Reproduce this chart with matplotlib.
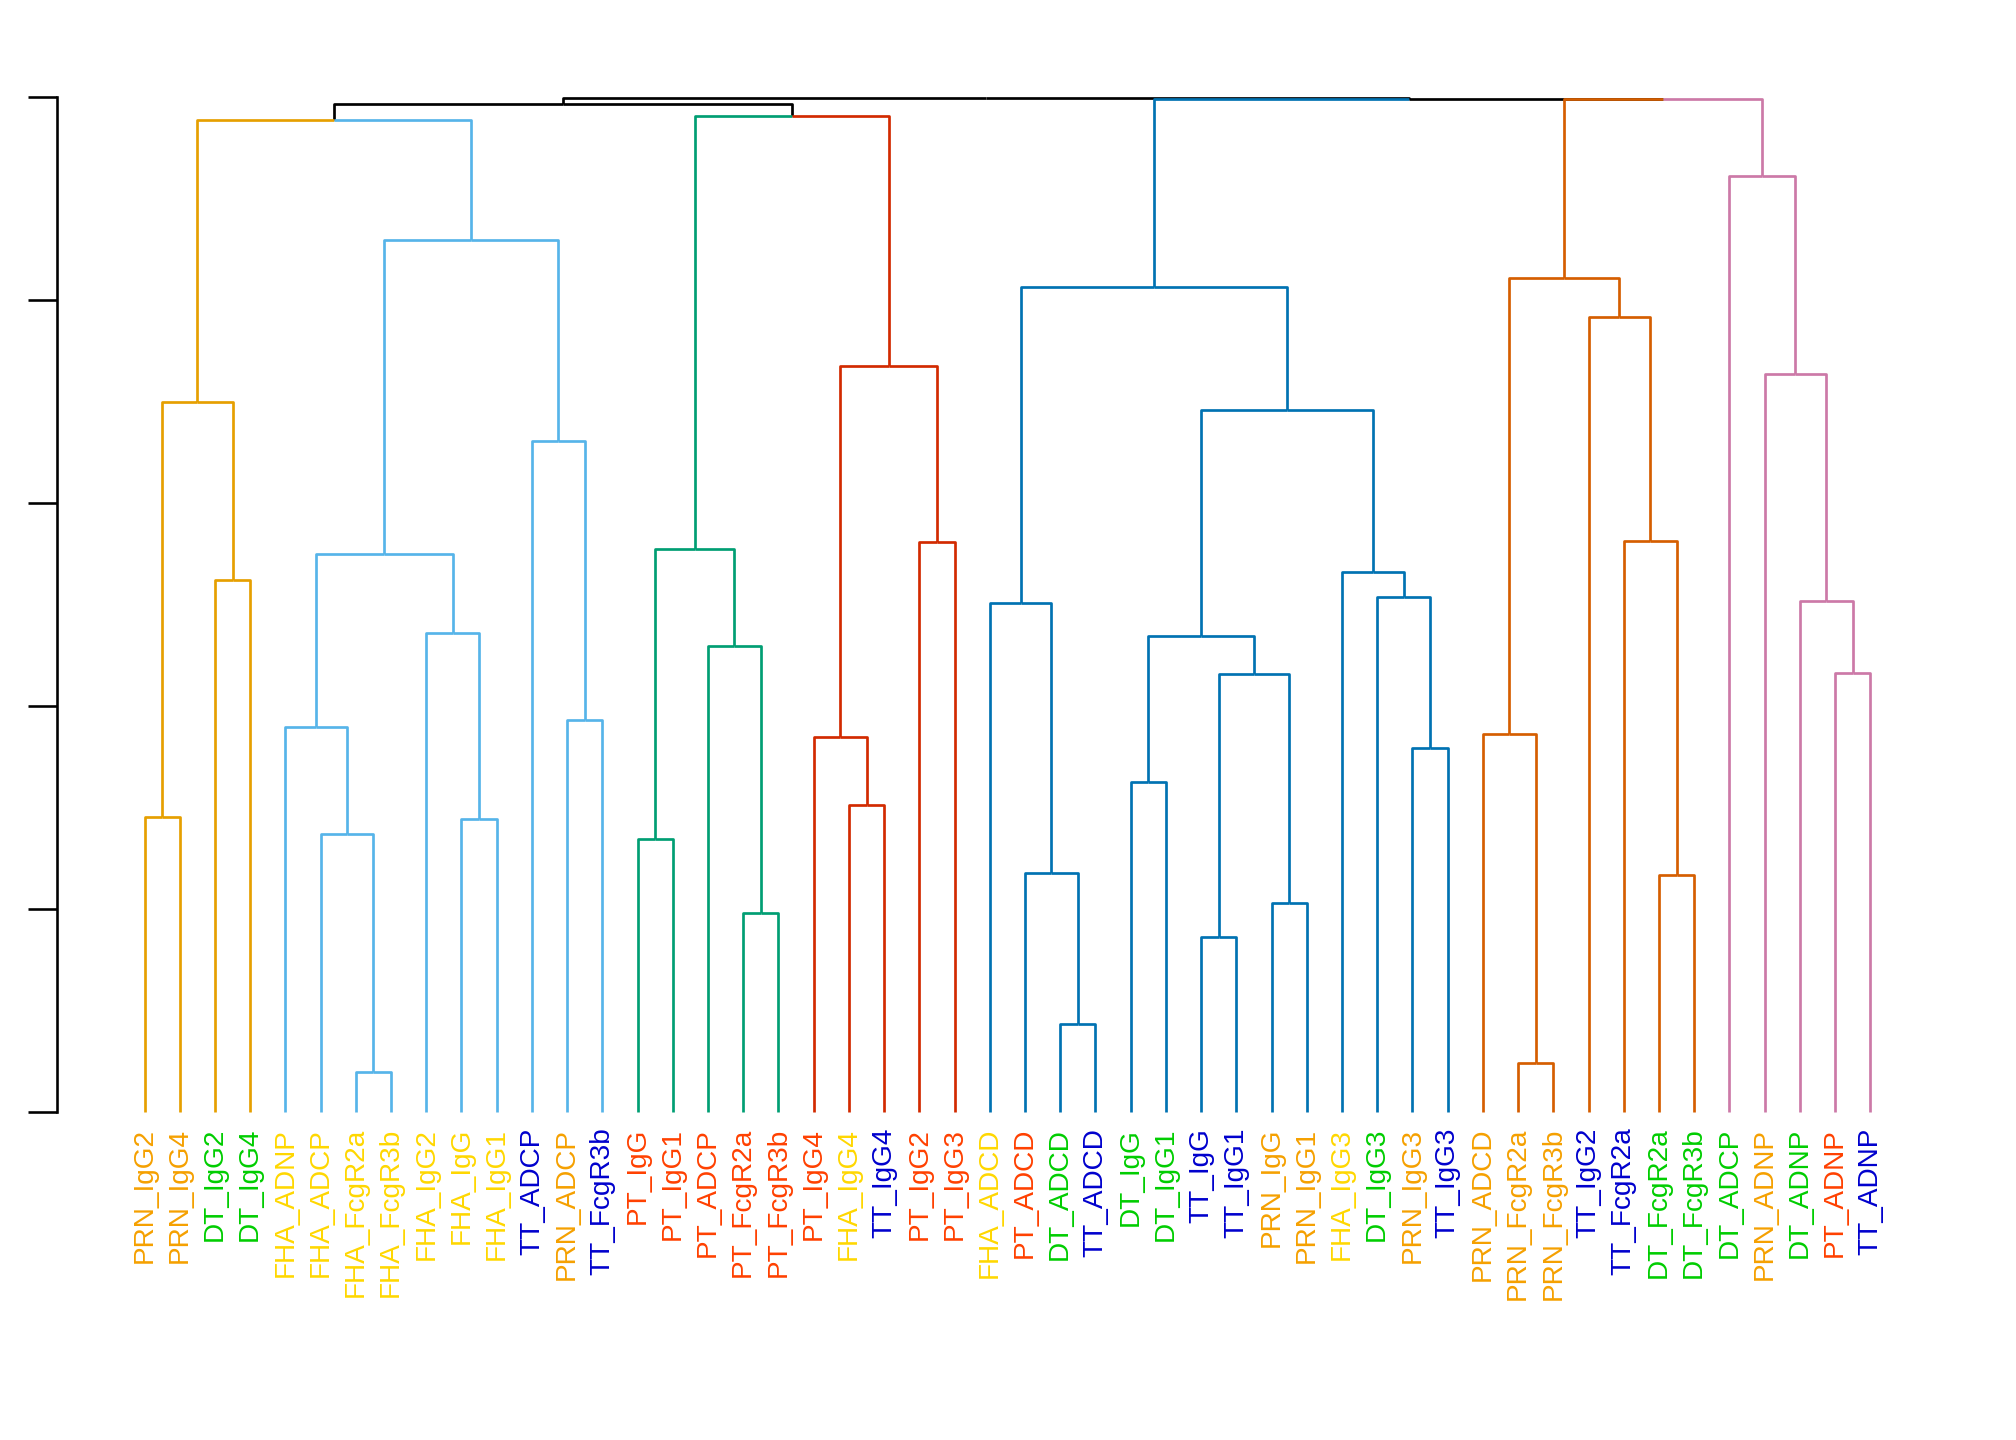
import matplotlib
matplotlib.use("Agg")
import matplotlib.pyplot as plt

# leaf labels in dendrogram order
labels = ["PRN_IgG2", "PRN_IgG4", "DT_IgG2", "DT_IgG4", "FHA_ADNP", "FHA_ADCP",
          "FHA_FcgR2a", "FHA_FcgR3b", "FHA_IgG2", "FHA_IgG", "FHA_IgG1", "TT_ADCP",
          "PRN_ADCP", "TT_FcgR3b", "PT_IgG", "PT_IgG1", "PT_ADCP", "PT_FcgR2a",
          "PT_FcgR3b", "PT_IgG4", "FHA_IgG4", "TT_IgG4", "PT_IgG2", "PT_IgG3",
          "FHA_ADCD", "PT_ADCD", "DT_ADCD", "TT_ADCD", "DT_IgG", "DT_IgG1",
          "TT_IgG", "TT_IgG1", "PRN_IgG", "PRN_IgG1", "FHA_IgG3", "DT_IgG3",
          "PRN_IgG3", "TT_IgG3", "PRN_ADCD", "PRN_FcgR2a", "PRN_FcgR3b", "TT_IgG2",
          "TT_FcgR2a", "DT_FcgR2a", "DT_FcgR3b", "DT_ADCP", "PRN_ADNP", "DT_ADNP",
          "PT_ADNP", "TT_ADNP"]

# hclust style merges: negative = leaf (1-based), positive = earlier merge row
merge_left = [-1, -3, 1, -7, -6, -5, -10, -9, 6, -13, -12, 9, 3,
              -15, -18, -17, 14, -21, -20, -23, 19, 17, 13,
              -27, -26, -25, -29, -31, -33, 28, 27, -37, -36, -35, 31, 26,
              -40, -39, -44, -43, -42, 38,
              -49, -48, -47, -46, 42, 36, 23]
merge_right = [-2, -4, 2, -8, 4, 5, -11, 7, 8, -14, 10, 11, 12,
               -16, -19, 15, 16, -22, 18, -24, 20, 21, 22,
               -28, 24, 25, -30, -32, -34, 29, 30, -38, 32, 33, 34, 35,
               -41, 37, -45, 39, 40, 41,
               -50, 43, 44, 45, 46, 47, 48]
merge_height = [1.454, 2.622, 3.497, 0.197, 1.370, 1.898, 1.445, 2.361, 2.750, 1.933, 3.304, 4.295, 4.886,
                1.342, 0.981, 2.296, 2.773, 1.510, 1.849, 2.806, 3.674, 4.906, 4.966,
                0.430, 1.179, 2.506, 1.626, 0.862, 1.030, 2.159, 2.347, 1.791, 2.538, 2.659, 3.457, 4.063,
                0.239, 1.861, 1.168, 2.815, 3.915, 4.107,
                2.164, 2.517, 3.634, 4.610, 4.990, 4.993, 4.995]

# merge rows that start a coloured cluster
cluster_roots = [3, 12, 17, 21, 36, 42, 46]
cluster_colors = ["#E69F00", "#56B4E9", "#009E73", "#D22A00", "#0072B2", "#D55E00", "#CC79A7"]

antigen_colors = {"PRN": "#F5A000", "DT": "#00CD00", "FHA": "#FFD700",
                  "TT": "#0000CD", "PT": "#FF4000"}

n_merge = len(merge_height)

# node helpers
def node_x(k):
    if k < 0:
        return -k
    return (node_x(merge_left[k - 1]) + node_x(merge_right[k - 1])) / 2

def node_h(k):
    return 0.0 if k < 0 else merge_height[k - 1]

node_color = {}
def paint(k, col):
    node_color[k] = col
    if k > 0:
        paint(merge_left[k - 1], col)
        paint(merge_right[k - 1], col)

for r, c in zip(cluster_roots, cluster_colors):
    paint(r, c)

fig = plt.figure(figsize=(14, 10), dpi=144)
ax = fig.add_axes([57 / 2016, 0.22799, 1 - 57 / 2016, 0.70444])

def draw(k):
    x, h = node_x(k), node_h(k)
    for child in (merge_left[k - 1], merge_right[k - 1]):
        cx, ch = node_x(child), node_h(child)
        ax.plot([x, cx, cx], [h, h, ch], color=node_color.get(child, "black"),
                lw=1.35, solid_capstyle="butt", clip_on=False)
        if child > 0:
            draw(child)

draw(n_merge)

for i, lab in enumerate(labels, start=1):
    ax.annotate(lab, xy=(i, 0), xytext=(0, -8), textcoords="offset points",
                rotation=90, ha="center", va="top", fontsize=14,
                family="Liberation Sans", color=antigen_colors[lab.split("_")[0]],
                annotation_clip=False)

step = 35.22
ax.set_xlim(1 - (144.5 - 57) / step, 1 + (2016 - 144.5) / step)
ax.set_ylim(0, 5)
for s in ["top", "right", "bottom"]:
    ax.spines[s].set_visible(False)
ax.spines["left"].set_bounds(0, 5)
ax.spines["left"].set_linewidth(1.3)
ax.set_yticks([0, 1, 2, 3, 4, 5])
ax.set_yticklabels([])
ax.tick_params(axis="y", direction="out", length=14.5, width=1.3)
ax.set_xticks([])

fig.savefig("out.png", dpi=144)
